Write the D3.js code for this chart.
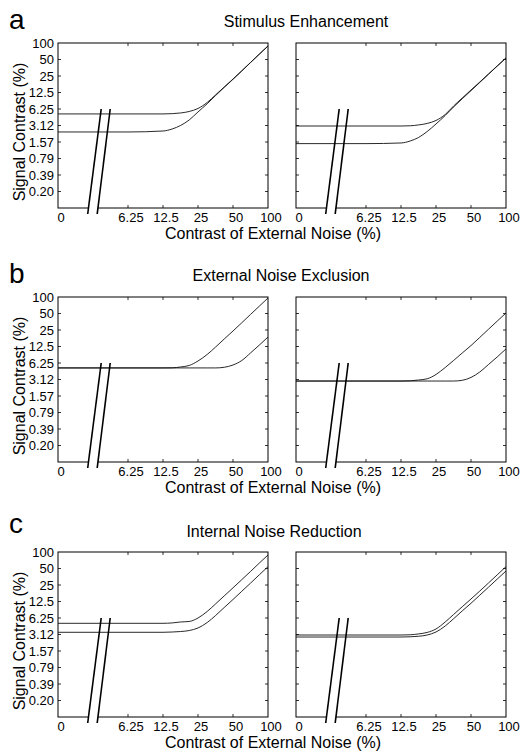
<!DOCTYPE html>
<html>
<head>
<meta charset="utf-8">
<script src="https://cdn.jsdelivr.net/npm/d3@7"></script>
<style>
  body { margin: 0; background: #fff; }
  svg { font-family: "Liberation Sans", Arial, Helvetica, sans-serif; fill: #000; }
  .frame { fill: none; stroke: #000; stroke-width: 1; }
  .curve { fill: none; stroke: #111; stroke-width: 0.9; }
  .tick-mark { stroke: #000; stroke-width: 0.8; }
  .brk { stroke: #000; stroke-width: 1.6; }
  .brk-gap { fill: #fff; stroke: none; }
  .tick-label { font-size: 13px; }
  .axis-title { font-size: 16px; }
  .row-title { font-size: 16px; }
  .row-letter { font-size: 28px; }
</style>
</head>
<body>
<svg id="chart" width="523" height="751"></svg>
<script>
// ---- data ----
const noiseLevels = [0, 6.25, 12.5, 15, 17.7, 21, 25, 30, 35.4, 42, 50, 59.5, 70.7, 84, 100];

const xTickValues = [0, 6.25, 12.5, 25, 50, 100];
const xTickLabels = ["0", "6.25", "12.5", "25", "50", "100"];
const yTickValues = [100, 50, 25, 12.5, 6.25, 3.125, 1.5625, 0.78125, 0.390625, 0.1953125];
const yTickLabels = ["100", "50", "25", "12.5", "6.25", "3.12", "1.57", "0.79", "0.39", "0.20"];

const rowLetters = ["a", "b", "c"];
const rowTitles = ["Stimulus Enhancement", "External Noise Exclusion", "Internal Noise Reduction"];

// threshold signal contrast (%) at each noise level
const aLeftHigh  = [5.08, 5.08, 5.08, 5.14, 5.29, 5.63, 6.38, 8.23, 11.3, 15.7, 22.0, 31.1, 44.1, 62.4, 88.2];
const aLeftLow   = [2.38, 2.38, 2.48, 2.70, 3.13, 3.94, 5.52, 7.79, 11.0, 15.5, 21.8, 30.9, 43.9, 62.2, 88.2];
const aRightHigh = [3.06, 3.06, 3.06, 3.09, 3.20, 3.41, 3.86, 4.96, 7.08, 9.9, 13.9, 19.4, 27.2, 38.1, 53.3];
const aRightLow  = [1.46, 1.46, 1.50, 1.63, 1.89, 2.43, 3.33, 4.76, 6.80, 9.6, 13.5, 19.1, 26.9, 37.9, 53.3];

const bLeftHigh  = [5.08, 5.08, 5.08, 5.10, 5.29, 5.63, 6.80, 8.95, 12.2, 17.1, 24.0, 33.9, 48.0, 67.8, 95.9];
const bLeftLow   = [5.08, 5.08, 5.08, 5.08, 5.08, 5.08, 5.08, 5.08, 5.08, 5.22, 5.75, 6.94, 9.52, 13.2, 18.6];
const bRightHigh = [2.93, 2.93, 2.93, 2.96, 3.06, 3.22, 3.86, 5.17, 6.94, 9.5, 13.0, 18.3, 25.8, 36.3, 51.0];
const bRightLow  = [2.93, 2.93, 2.93, 2.93, 2.93, 2.93, 2.93, 2.93, 2.93, 3.02, 3.41, 4.28, 5.87, 8.05, 11.3];

const cLeftHigh  = [5.00, 5.00, 5.00, 5.08, 5.29, 5.40, 6.25, 8.23, 11.3, 15.8, 22.2, 31.3, 44.1, 62.5, 88.2];
const cLeftLow   = [3.43, 3.43, 3.43, 3.47, 3.54, 3.69, 4.11, 5.17, 6.94, 9.7, 13.6, 19.2, 27.0, 38.2, 54.0];
const cRightHigh = [3.06, 3.06, 3.06, 3.09, 3.20, 3.41, 3.94, 5.29, 7.24, 10.0, 13.9, 19.4, 27.2, 38.3, 54.0];
const cRightLow  = [2.81, 2.81, 2.81, 2.84, 2.90, 3.06, 3.47, 4.47, 6.05, 8.4, 11.6, 16.3, 22.8, 32.0, 45.0];

const panels = [
    {row: 0, col: 0, series: [aLeftHigh, aLeftLow]},
    {row: 0, col: 1, series: [aRightHigh, aRightLow]},
    {row: 1, col: 0, series: [bLeftHigh, bLeftLow]},
    {row: 1, col: 1, series: [bRightHigh, bRightLow]},
    {row: 2, col: 0, series: [cLeftHigh, cLeftLow]},
    {row: 2, col: 1, series: [cRightHigh, cRightLow]}
];

// ---- layout ----
const layout = {
    rowTops: [43, 297, 552],
    colLefts: [58, 296],
    width: 210,
    height: 165,
    titleX: [306, 281, 274],
    titleDy: [-16, -16, -15],
    letterDy: [-14, -14, -19],
    zeroNoise: 1.5625,   // where "0" sits on the log axis
    breakNoise: 3.2      // centre of the axis break
};

const svg = d3.select('#chart');

rowLetters.forEach((letter, i) => {
    const top = layout.rowTops[i];
    svg.append('text')
        .attr('class', 'row-letter')
        .attr('x', 9)
        .attr('y', top + layout.letterDy[i])
        .text(letter);

    svg.append('text')
        .attr('class', 'row-title')
        .attr('x', layout.titleX[i])
        .attr('y', top + layout.titleDy[i])
        .attr('text-anchor', 'middle')
        .text(rowTitles[i]);

    svg.append('text')
        .attr('class', 'axis-title')
        .attr('x', 273)
        .attr('y', top + layout.height + 31)
        .attr('text-anchor', 'middle')
        .text('Contrast of External Noise (%)');

    svg.append('text')
        .attr('class', 'axis-title')
        .attr('transform', `translate(25,${top + 89}) rotate(-90)`)
        .attr('text-anchor', 'middle')
        .text('Signal Contrast (%)');
});

panels.forEach(p => drawPanel(p));

function drawPanel(p) {
    const x0 = layout.colLefts[p.col];
    const top = layout.rowTops[p.row];
    const w = layout.width, h = layout.height;

    const xScale = d3.scaleLog().base(2)
        .domain([layout.zeroNoise, 100])
        .range([0, w]);
    const yScale = d3.scaleLog().base(2)
        .domain([100 / 1024, 100])
        .range([h, 0]);
    const xPos = v => xScale(v === 0 ? layout.zeroNoise : v);

    const g = svg.append('g')
        .attr('transform', `translate(${x0},${top})`);

    g.append('rect')
        .attr('class', 'frame')
        .attr('width', w)
        .attr('height', h);

    // inward tick marks on all four sides
    const tk = 3;
    yTickValues.slice(1).forEach(v => {
        const y = yScale(v);
        g.append('line').attr('class', 'tick-mark')
            .attr('x1', 0).attr('x2', tk).attr('y1', y).attr('y2', y);
        g.append('line').attr('class', 'tick-mark')
            .attr('x1', w - tk).attr('x2', w).attr('y1', y).attr('y2', y);
    });
    xTickValues.slice(1, -1).forEach(v => {
        const x = xPos(v);
        g.append('line').attr('class', 'tick-mark')
            .attr('x1', x).attr('x2', x).attr('y1', 0).attr('y2', tk);
        g.append('line').attr('class', 'tick-mark')
            .attr('x1', x).attr('x2', x).attr('y1', h - tk).attr('y2', h);
    });

    // tick labels
    g.selectAll('.x-label')
        .data(xTickValues)
        .join('text')
        .attr('class', 'tick-label x-label')
        .attr('x', d => xPos(d) + 3)
        .attr('y', h + 14)
        .attr('text-anchor', 'middle')
        .text((d, i) => xTickLabels[i]);

    if (p.col === 0) {
        g.selectAll('.y-label')
            .data(yTickValues)
            .join('text')
            .attr('class', 'tick-label y-label')
            .attr('x', -4)
            .attr('y', d => yScale(d) + 4.5)
            .attr('text-anchor', 'end')
            .text((d, i) => yTickLabels[i]);
    }

    // axis break: white gap between two slanted strokes
    const cx = xPos(layout.breakNoise);
    const yb = h + 6, yt = 66;
    const left = [[cx - 6.5, yb], [cx + 7, yt]];
    const right = [[cx + 3, yb], [cx + 16, yt]];
    g.append('path')
        .attr('class', 'brk-gap')
        .attr('d', d3.line()([left[0], left[1], right[1], right[0]]) + 'Z');

    const line = d3.line()
        .x((d, i) => xPos(noiseLevels[i]))
        .y(d => yScale(d))
        .curve(d3.curveMonotoneX);

    g.selectAll('.curve')
        .data(p.series)
        .join('path')
        .attr('class', 'curve')
        .attr('d', d => line(d));

    [left, right].forEach(seg => {
        g.append('line')
            .attr('class', 'brk')
            .attr('x1', seg[0][0]).attr('y1', seg[0][1])
            .attr('x2', seg[1][0]).attr('y2', seg[1][1]);
    });
}
</script>
</body>
</html>
